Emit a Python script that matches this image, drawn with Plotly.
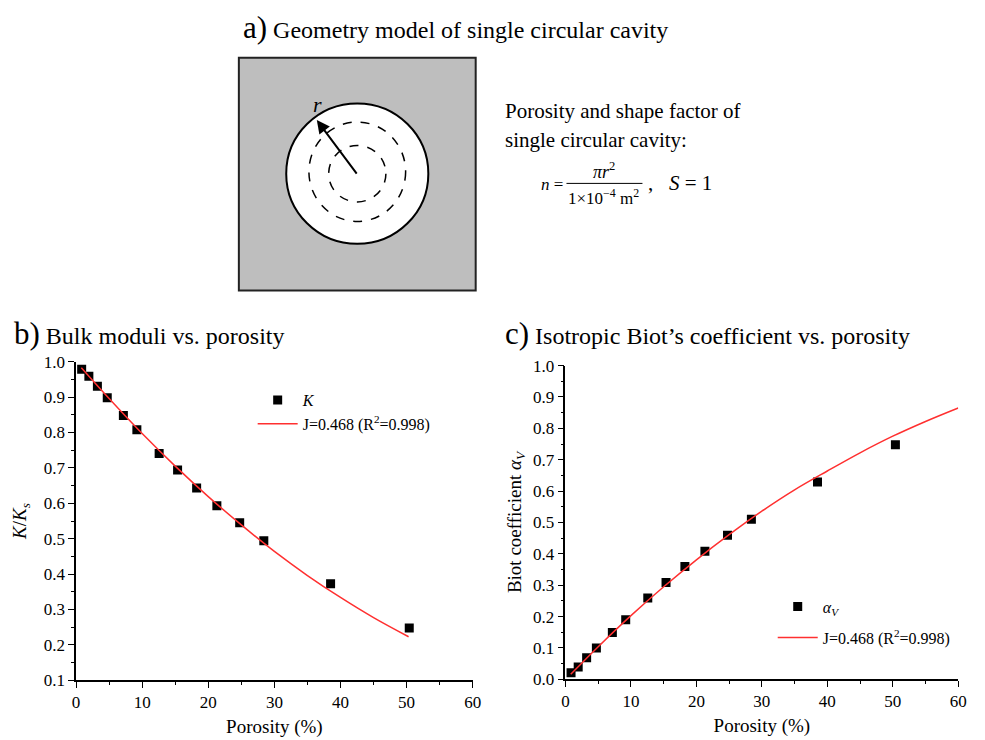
import plotly.graph_objects as go

W, H = 985, 740

# Measured porosity (%) and normalized results for the single circular cavity
porosity = [0.85, 1.94, 3.23, 4.72, 7.16, 9.2, 12.57, 15.36, 18.24, 21.3, 24.75, 28.4, 38.5, 50.4]
k_ratio = [0.979, 0.959, 0.931, 0.898, 0.848, 0.808, 0.741, 0.694, 0.643, 0.593, 0.545, 0.494, 0.373, 0.248]
biot = [0.021, 0.039, 0.069, 0.100, 0.149, 0.190, 0.259, 0.309, 0.360, 0.408, 0.459, 0.510, 0.629, 0.748]

# Fitted model curve (J = 0.468) sampled along porosity
fit_porosity_b = [0.8, 5, 10, 15, 20, 25, 30, 35, 40, 45, 50.3]
fit_k = [0.983, 0.896, 0.797, 0.705, 0.619, 0.539, 0.464, 0.396, 0.334, 0.277, 0.223]
fit_porosity_c = [0.8, 5, 10, 15, 20, 25, 30, 35, 40, 45, 50, 55, 60]
fit_biot = [0.016, 0.104, 0.203, 0.295, 0.381, 0.461, 0.536, 0.604, 0.664, 0.722, 0.775, 0.822, 0.865]

x_ticks = [0, 10, 20, 30, 40, 50, 60]
fit_label = "J=0.468 (R<sup>2</sup>=0.998)"

SERIF = "Times New Roman, Liberation Serif, serif"
RED = "#ff3030"


def px(x):
    return x / W


def py(y):
    return 1 - y / H


fig = go.Figure()

# b) bulk moduli
fig.add_trace(go.Scatter(x=porosity, y=k_ratio, mode="markers", name="<i>K</i>",
                         marker=dict(symbol="square", size=9, color="black"),
                         xaxis="x", yaxis="y", legend="legend", legendgroup="b1"))
fig.add_trace(go.Scatter(x=fit_porosity_b, y=fit_k, mode="lines", name=fit_label,
                         line=dict(color=RED, width=1.5, shape="spline"),
                         xaxis="x", yaxis="y", legend="legend", legendgroup="b2"))

# c) Biot coefficient
fig.add_trace(go.Scatter(x=porosity, y=biot, mode="markers", name="<i>α<sub>V</sub></i>",
                         marker=dict(symbol="square", size=9, color="black"),
                         xaxis="x2", yaxis="y2", legend="legend2", legendgroup="c1"))
fig.add_trace(go.Scatter(x=fit_porosity_c, y=fit_biot, mode="lines", name=fit_label,
                         line=dict(color=RED, width=1.5, shape="spline"),
                         xaxis="x2", yaxis="y2", legend="legend2", legendgroup="c2"))

tick_font = dict(family=SERIF, size=17, color="black")
title_font = dict(family=SERIF, size=19, color="black")


def axis_style(**kw):
    d = dict(showline=True, linecolor="black", linewidth=1.5, ticks="outside",
             ticklen=6, tickwidth=1.2, tickcolor="black", showgrid=False,
             zeroline=False, tickfont=tick_font,
             minor=dict(ticks="outside", ticklen=3, tickwidth=1, tickcolor="black"))
    d.update(kw)
    return d


xb = axis_style(domain=[px(73), px(475)], range=[0, 60], tickvals=x_ticks, anchor="y",
                title=dict(text="Porosity (%)", font=title_font, standoff=8))
xb["minor"]["dtick"] = 5
yb = axis_style(domain=[py(689), py(362)], range=[0.1, 1.0], dtick=0.1, tick0=0.1,
                tickformat=".1f", anchor="x",
                title=dict(text="<i>K</i>/<i>K<sub>s</sub></i>", font=title_font, standoff=12))
yb["minor"]["dtick"] = 0.05

xc = axis_style(domain=[px(569), px(967)], range=[0, 60], tickvals=x_ticks, anchor="y2",
                title=dict(text="Porosity (%)", font=title_font, standoff=8))
xc["minor"]["dtick"] = 5
yc = axis_style(domain=[py(688), py(366)], range=[0, 1.0], dtick=0.1, tick0=0,
                tickformat=".1f", anchor="x2",
                title=dict(text="Biot coefficient <i>α<sub>V</sub></i>", font=title_font, standoff=6))
yc["minor"]["dtick"] = 0.05

shapes = [
    # gray matrix block
    dict(type="rect", xref="paper", yref="paper", x0=px(238), x1=px(478), y0=py(289), y1=py(50),
         fillcolor="#bebebe", line=dict(color="#222222", width=2)),
    # circular cavity
    dict(type="circle", xref="paper", yref="paper", x0=px(358 - 72), x1=px(358 + 72),
         y0=py(169 + 72), y1=py(169 - 72), fillcolor="white", line=dict(color="black", width=2)),
    dict(type="circle", xref="paper", yref="paper", x0=px(358 - 49), x1=px(358 + 49),
         y0=py(167 + 51), y1=py(167 - 51), line=dict(color="black", width=1.5, dash="dash")),
    dict(type="circle", xref="paper", yref="paper", x0=px(358 - 29), x1=px(358 + 29),
         y0=py(169 + 29), y1=py(169 - 29), line=dict(color="black", width=1.5, dash="dash")),
    # fraction bar
    dict(type="line", xref="paper", yref="paper", x0=px(570), x1=px(647), y0=py(179), y1=py(179),
         line=dict(color="black", width=1)),
]


def note(text, x, y, size, xanchor="left", italic=False, **kw):
    return dict(text=text, x=px(x), y=py(y), xref="paper", yref="paper", showarrow=False,
                xanchor=xanchor, yanchor="middle",
                font=dict(family=SERIF, size=size, color="black",
                          style="italic" if italic else "normal"), **kw)


annotations = [
    note("<span style='font-size:31px'>a)</span> Geometry model of single circular cavity", 240, 19, 24),
    note("<span style='font-size:31px'>b)</span> Bulk moduli vs. porosity", 8, 333, 24),
    note("<span style='font-size:31px'>c)</span> Isotropic Biot’s coefficient vs. porosity", 506, 333, 24),
    note("Porosity and shape factor of", 506, 105, 21),
    note("single circular cavity:", 506, 134, 21),
    note("<i>n</i> =", 568, 180, 17, xanchor="right"),
    note("<i>πr</i><sup>2</sup>", 608, 166, 18, xanchor="center"),
    note("1×10<sup>−4</sup> m<sup>2</sup>", 608, 193, 17, xanchor="center"),
    note(",   <i>S</i> = 1", 651, 179, 21),
    note("<i>r</i>", 318, 98, 22, xanchor="center"),
    # radius arrow
    dict(x=px(317), y=py(114), xref="paper", yref="paper", ax=358 - 317, ay=169 - 114,
         showarrow=True, arrowhead=2, arrowsize=1.3, arrowwidth=2, arrowcolor="black", text=""),
]

legend_font = dict(family=SERIF, size=16, color="black")

fig.update_layout(
    width=W, height=H,
    margin=dict(l=0, r=0, t=0, b=0),
    paper_bgcolor="white", plot_bgcolor="white",
    xaxis=xb, yaxis=yb, xaxis2=xc, yaxis2=yc,
    shapes=shapes, annotations=annotations,
    legend=dict(x=px(252), y=py(384), xanchor="left", yanchor="top", itemwidth=40,
                traceorder="grouped", bgcolor="rgba(0,0,0,0)", font=legend_font, tracegroupgap=0),
    legend2=dict(x=px(779), y=py(596), xanchor="left", yanchor="top", itemwidth=40,
                 traceorder="grouped", bgcolor="rgba(0,0,0,0)", font=legend_font, tracegroupgap=7),
    showlegend=True,
)

fig.write_html("out.html")
